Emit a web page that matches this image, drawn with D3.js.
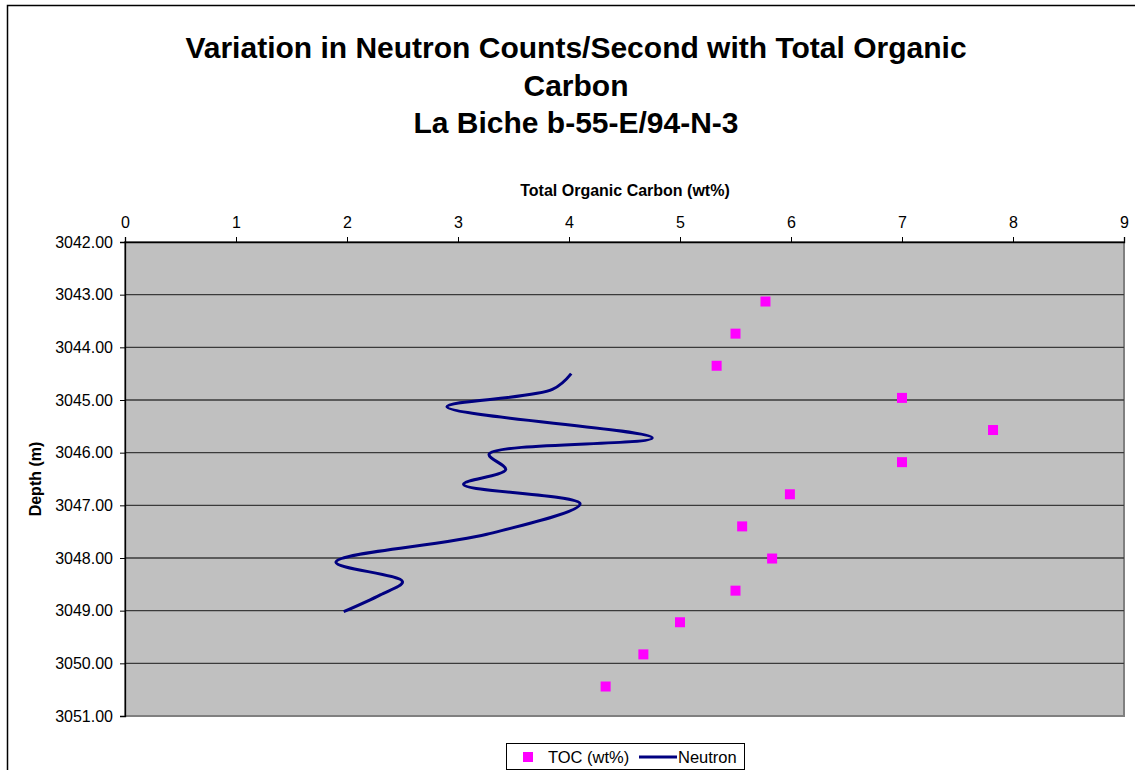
<!DOCTYPE html>
<html>
<head>
<meta charset="utf-8">
<script src="https://cdn.jsdelivr.net/npm/d3@7"></script>
<style>
  body { margin: 0; background: #fff; }
  text { font-family: "Liberation Sans", Arial, sans-serif; }
</style>
</head>
<body>
<svg id="chart" width="1135" height="770"></svg>
<script>
// TOC samples (wt%) and depths (m)
const tocValues = [5.77, 5.50, 5.33, 7.00, 7.82, 7.00, 5.99, 5.56, 5.83, 5.50, 5.00, 4.67, 4.33];
const tocDepths = [3043.13, 3043.74, 3044.35, 3044.96, 3045.57, 3046.18, 3046.79, 3047.40, 3048.01, 3048.62, 3049.22, 3049.83, 3050.44];

// neutron log trace (plotted on the TOC scale)
const neutronValues = [4.02, 3.85, 2.90, 4.75, 3.28, 3.43, 3.05, 4.10, 3.26, 1.90, 2.50, 2.30, 1.97];
const neutronDepths = [3044.50, 3044.80, 3045.13, 3045.72, 3046.03, 3046.32, 3046.60, 3046.97, 3047.55, 3048.08, 3048.45, 3048.70, 3049.02];

const xTicks = [0, 1, 2, 3, 4, 5, 6, 7, 8, 9];
const depthTicks = [3042, 3043, 3044, 3045, 3046, 3047, 3048, 3049, 3050, 3051];
const titleLines = ["Variation in Neutron Counts/Second with Total Organic", "Carbon", "La Biche b-55-E/94-N-3"];

const svg = d3.select('#chart');
const margin = {left: 125, top: 242, right: 1124, bottom: 716};

const x = d3.scaleLinear().domain([0, 9]).range([margin.left, margin.right]);
const y = d3.scaleLinear().domain([3042, 3051]).range([margin.top, margin.bottom]);

// outer chart border (only top & left visible in frame)
svg.append('rect')
  .attr('x', 7.5).attr('y', 5.5)
  .attr('width', 1200).attr('height', 900)
  .attr('fill', 'none')
  .attr('stroke', '#000')
  .attr('stroke-width', 1.5);

// title
svg.append('g').selectAll('text')
  .data(titleLines)
  .enter()
  .append('text')
  .attr('x', 576)
  .attr('y', (d, i) => 58 + i * 37.5)
  .attr('text-anchor', 'middle')
  .attr('font-size', 30)
  .attr('font-weight', 'bold')
  .text(d => d);

// plot area
svg.append('rect')
  .attr('x', margin.left).attr('y', margin.top)
  .attr('width', margin.right - margin.left)
  .attr('height', margin.bottom - margin.top)
  .attr('fill', '#C0C0C0')
  .attr('stroke', '#808080')
  .attr('stroke-width', 2);

// gridlines
svg.append('g').selectAll('line')
  .data(depthTicks.slice(1, -1))
  .enter()
  .append('line')
  .attr('x1', margin.left).attr('x2', margin.right)
  .attr('y1', d => y(d)).attr('y2', d => y(d))
  .attr('stroke', '#3a3a3a')
  .attr('stroke-width', 1.3);

// axes
const xAxis = svg.append('g')
  .attr('transform', `translate(0,${margin.top})`)
  .call(d3.axisTop(x).tickValues(xTicks).tickSize(5).tickPadding(9).tickFormat(d3.format('d')));
const yAxis = svg.append('g')
  .attr('transform', `translate(${margin.left},0)`)
  .call(d3.axisLeft(y).tickValues(depthTicks).tickSize(5).tickPadding(7).tickFormat(d3.format('.2f')));

[xAxis, yAxis].forEach(a => {
  a.select('.domain').attr('stroke', '#000').attr('stroke-width', 1.3);
  a.selectAll('.tick line').attr('stroke', '#000');
  a.selectAll('.tick text')
    .attr('font-family', '"Liberation Sans", Arial, sans-serif')
    .attr('font-size', 16)
    .attr('fill', '#000');
});

// axis titles
svg.append('text')
  .attr('x', 625).attr('y', 196)
  .attr('text-anchor', 'middle')
  .attr('font-size', 16)
  .attr('font-weight', 'bold')
  .text('Total Organic Carbon (wt%)');

svg.append('text')
  .attr('transform', 'translate(41,479) rotate(-90)')
  .attr('text-anchor', 'middle')
  .attr('font-size', 16)
  .attr('font-weight', 'bold')
  .text('Depth (m)');

// neutron line
const neutron = neutronValues.map((v, i) => ({v: v, d: neutronDepths[i]}));
svg.append('path')
  .datum(neutron)
  .attr('fill', 'none')
  .attr('stroke', '#000080')
  .attr('stroke-width', 3)
  .attr('d', d3.line().x(p => x(p.v)).y(p => y(p.d)).curve(d3.curveCatmullRom.alpha(0.5)));

// TOC markers
const toc = tocValues.map((v, i) => ({v: v, d: tocDepths[i]}));
svg.append('g').selectAll('rect')
  .data(toc)
  .enter()
  .append('rect')
  .attr('x', p => x(p.v) - 5)
  .attr('y', p => y(p.d) - 5)
  .attr('width', 10).attr('height', 10)
  .attr('fill', '#FF00FF');

// legend
const legend = svg.append('g');
legend.append('rect')
  .attr('x', 506.5).attr('y', 743.5)
  .attr('width', 238).attr('height', 26)
  .attr('fill', '#fff')
  .attr('stroke', '#000');
legend.append('rect')
  .attr('x', 523).attr('y', 752)
  .attr('width', 10).attr('height', 10)
  .attr('fill', '#FF00FF');
legend.append('text')
  .attr('x', 548).attr('y', 763)
  .attr('font-size', 16.5)
  .text('TOC (wt%)');
legend.append('line')
  .attr('x1', 639).attr('x2', 677)
  .attr('y1', 757).attr('y2', 757)
  .attr('stroke', '#000080')
  .attr('stroke-width', 3);
legend.append('text')
  .attr('x', 678).attr('y', 763)
  .attr('font-size', 16.5)
  .text('Neutron');
</script>
</body>
</html>
